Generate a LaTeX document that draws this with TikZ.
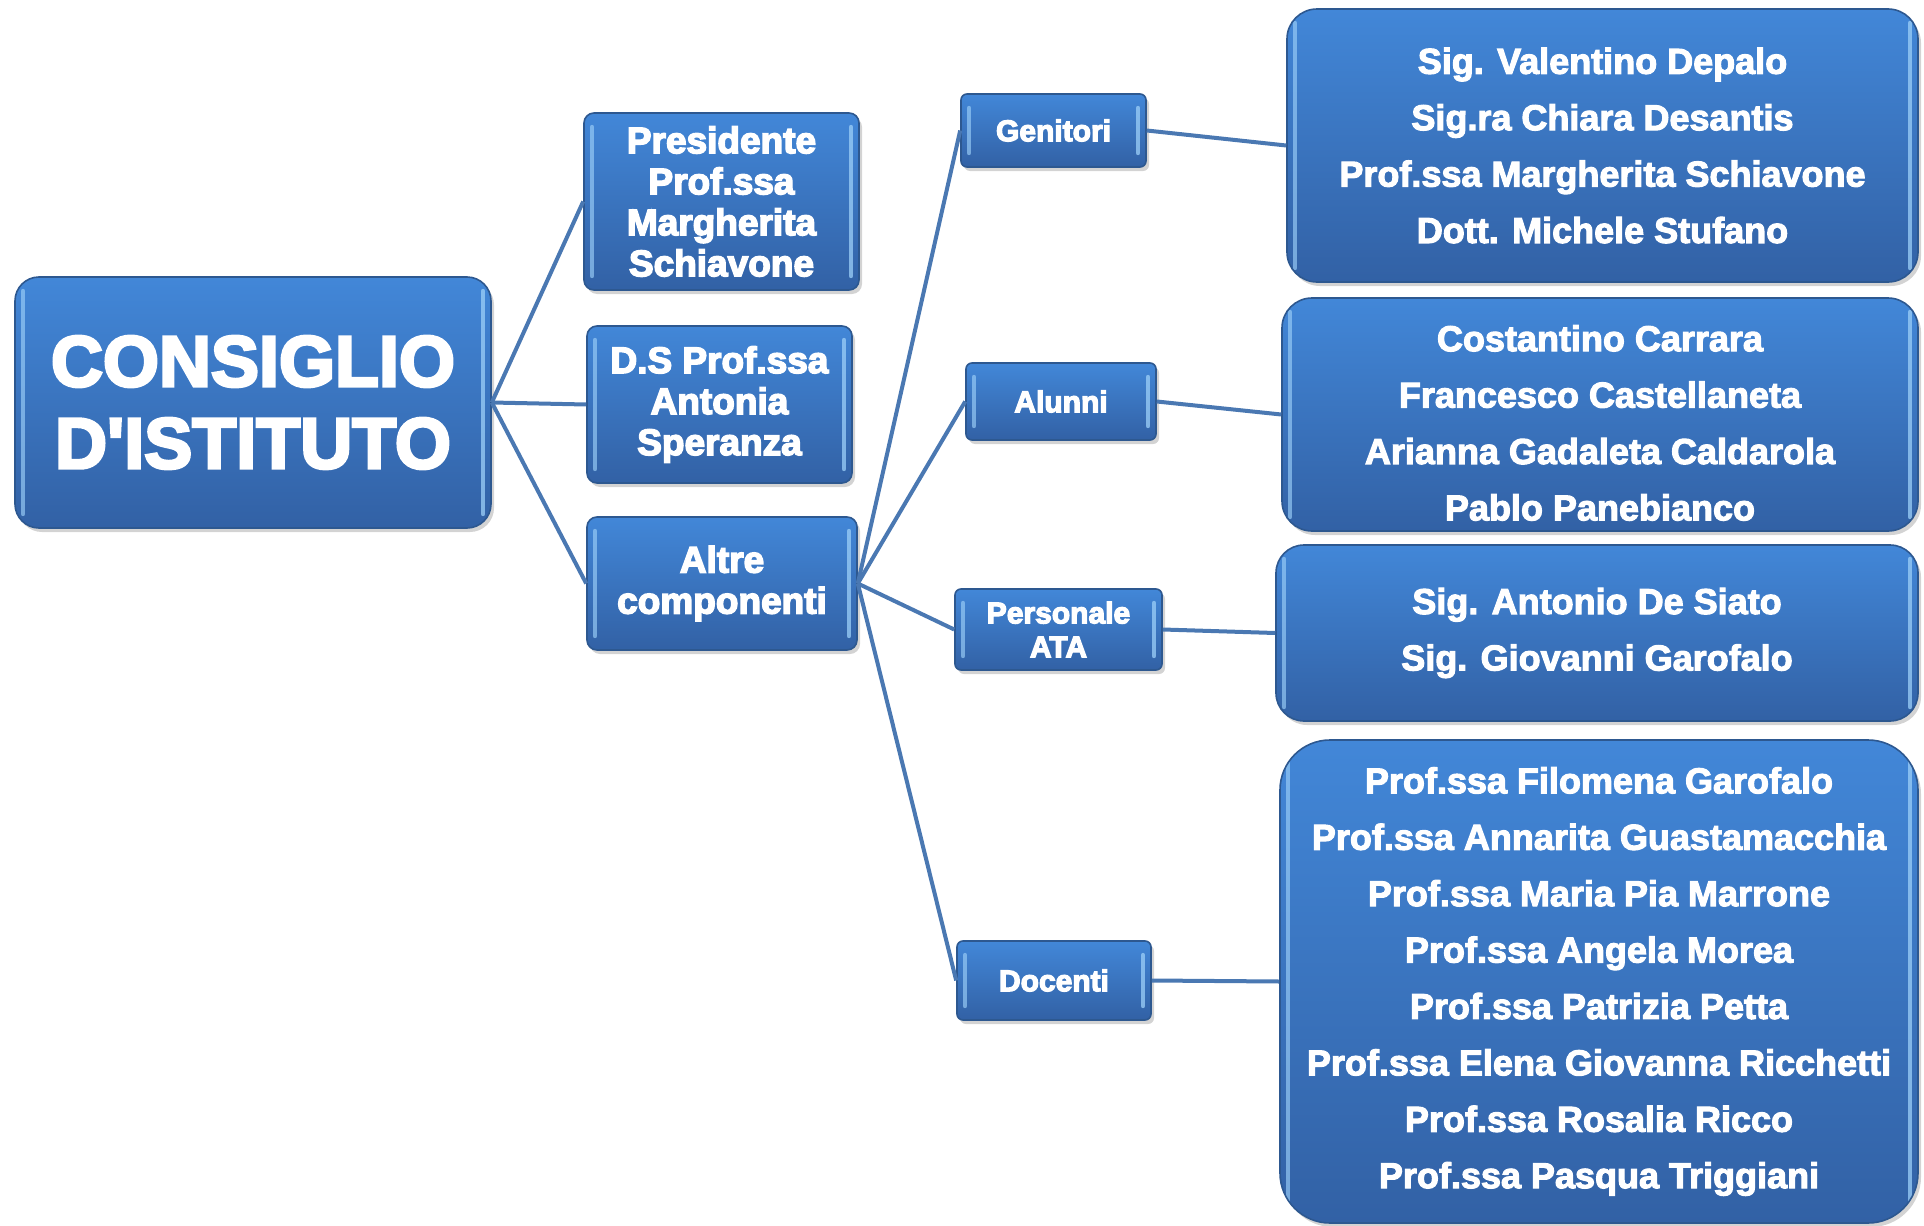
\documentclass[tikz,border=0pt]{standalone}
\usepackage{fontspec}
\usetikzlibrary{shadows}
\newfontfamily\heavy{Liberation Sans Bold}[FakeBold=4]
\newfontfamily\heavyr{Liberation Sans Bold}[FakeBold=3]
\definecolor{topc}{HTML}{4287D8}
\definecolor{botc}{HTML}{3261A5}
\definecolor{bdr}{HTML}{2D5890}
\definecolor{hl}{HTML}{9CCFF8}
\definecolor{link}{HTML}{4A78B2}
\tikzset{
  box/.style={rounded corners=#1, draw=bdr, line width=0.8pt,
    top color=topc, bottom color=botc, text=white, align=center, inner sep=0pt,
    drop shadow={shadow xshift=1.5pt, shadow yshift=-2pt, opacity=0.35},
    path picture={
      \draw[hl, line width=2.2pt, opacity=0.65, line cap=round]
        ([xshift=4pt,yshift=-7pt]path picture bounding box.north west) --
        ([xshift=4pt,yshift=7pt]path picture bounding box.south west);
      \draw[hl, line width=2.2pt, opacity=0.75, line cap=round]
        ([xshift=-4pt,yshift=-7pt]path picture bounding box.north east) --
        ([xshift=-4pt,yshift=7pt]path picture bounding box.south east);
    }},
  box/.default=4pt,
  bigfont/.style={font=\heavy\fontsize{36}{41}\selectfont},
  midfont/.style={font=\heavy\fontsize{18.5}{20.5}\selectfont},
  smallfont/.style={font=\heavy\fontsize{15}{17}\selectfont},
  listfont/.style={font=\heavyr\fontsize{18}{28.2}\selectfont},
  conn/.style={draw=link, line width=2pt}
}
\begin{document}
\begin{tikzpicture}[x=0.5pt,y=-0.5pt]
\useasboundingbox (0,0) rectangle (1924,1226);

% root
\node[box=12pt, bigfont, minimum width=238pt, minimum height=125.5pt] (main) at (253,402.5) {CONSIGLIO\\D\textquotesingle ISTITUTO};

% second level
\node[box=5pt, midfont, minimum width=137.5pt, minimum height=88.5pt] (pres) at (721.5,201.5) {Presidente\\Prof.ssa\\Margherita\\Schiavone};
\node[box=5pt, midfont, minimum width=132.5pt, minimum height=78.5pt] (ds) at (719.5,404.5) {D.S Prof.ssa\\Antonia\\Speranza};
\node[box=5pt, midfont, minimum width=135pt, minimum height=66.5pt] (altre) at (722,583.5) {Altre\\componenti};

% third level
\node[box=3pt, smallfont, minimum width=92.5pt, minimum height=36.5pt] (gen) at (1053.5,130.5) {Genitori};
\node[box=3pt, smallfont, minimum width=95pt, minimum height=38.5pt] (alu) at (1061,401.5) {Alunni};
\node[box=3pt, smallfont, minimum width=103.5pt, minimum height=40.5pt] (ata) at (1058.5,629.5) {Personale\\ATA};
\node[box=3pt, smallfont, minimum width=97pt, minimum height=39.5pt] (doc) at (1054,980.5) {Docenti};

% lists
\node[box=15pt, listfont, minimum width=315.5pt, minimum height=136.5pt] (b1) at (1602.5,145.5)
  {Sig. Valentino Depalo\\Sig.ra Chiara Desantis\\Prof.ssa Margherita Schiavone\\Dott. Michele Stufano};
\node[box=15pt, listfont, minimum width=318pt, minimum height=116.5pt] (b2) at (1600,414.5)
  {\raisebox{-5pt}[\height][\depth]{\begin{tabular}{@{}c@{}}Costantino Carrara\\Francesco Castellaneta\\Arianna Gadaleta Caldarola\\Pablo Panebianco\end{tabular}}};
\node[box=14pt, listfont, minimum width=321pt, minimum height=88pt] (b3) at (1597,633)
  {Sig. Antonio De Siato\\Sig. Giovanni Garofalo};
\node[box=25pt, listfont, minimum width=319pt, minimum height=241.5pt] (b4) at (1599,981.5)
  {Prof.ssa Filomena Garofalo\\Prof.ssa Annarita Guastamacchia\\Prof.ssa Maria Pia Marrone\\Prof.ssa Angela Morea\\Prof.ssa Patrizia Petta\\Prof.ssa Elena Giovanna Ricchetti\\Prof.ssa Rosalia Ricco\\Prof.ssa Pasqua Triggiani};

% connectors
\draw[conn] (main.east) -- (pres.west);
\draw[conn] (main.east) -- (ds.west);
\draw[conn] (main.east) -- (altre.west);
\draw[conn] (altre.east) -- (gen.west);
\draw[conn] (altre.east) -- (alu.west);
\draw[conn] (altre.east) -- (ata.west);
\draw[conn] (altre.east) -- (doc.west);
\draw[conn] (gen.east) -- (b1.west);
\draw[conn] (alu.east) -- (b2.west);
\draw[conn] (ata.east) -- (b3.west);
\draw[conn] (doc.east) -- (b4.west);
\end{tikzpicture}
\end{document}
